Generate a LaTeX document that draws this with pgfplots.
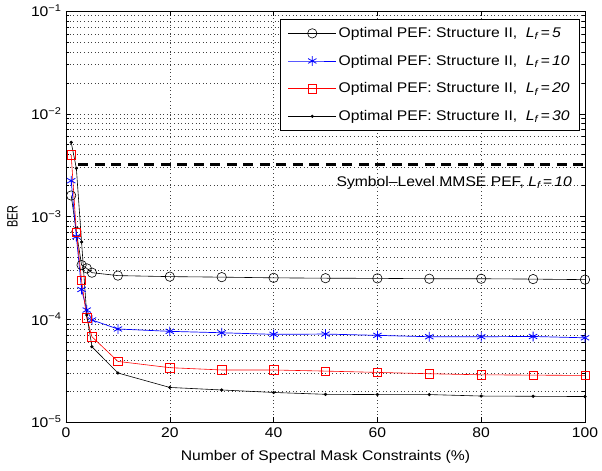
\documentclass[border=0pt]{standalone}
\usepackage{fontspec}
\setmainfont{Liberation Sans}[FakeStretch=1.12]
\newfontfamily\narrowfont{Liberation Sans}[FakeStretch=0.72]
\usepackage{pgfplots}
\pgfplotsset{compat=1.18}
\usetikzlibrary{calc}

\begin{document}
\begin{tikzpicture}[font=\fontsize{14}{16}\selectfont]
\begin{semilogyaxis}[
    scale only axis,
    width=519pt, height=411pt,
    xmin=0, xmax=100,
    ymin=1e-5, ymax=1e-1,
    xtick={0,20,40,60,80,100},
    ytick={1e-5,1e-4,1e-3,1e-2,1e-1},
    yticklabels={10\textsuperscript{−5},10\textsuperscript{−4},10\textsuperscript{−3},10\textsuperscript{−2},10\textsuperscript{−1}},
    /pgf/number format/assume math mode=true,
    xticklabel style={yshift=-2pt},
    yticklabel style={xshift=-1pt},
    tick align=inside,
    major tick length=5pt,
    minor tick length=3pt,
    xmajorgrids, ymajorgrids, yminorgrids,
    grid style={black!75, line width=0.5pt, dash pattern=on 0.6pt off 3pt},
    axis line style={line width=0.8pt},
    every tick/.style={black, line width=0.5pt},
    xlabel={Number of Spectral Mask Constraints (\%)},
    ylabel={\fontsize{15}{16}\narrowfont BER},
    xlabel style={at={(axis description cs:0.5,0)}, anchor=north, inner sep=0pt, yshift=-28pt},
    ylabel style={at={(axis description cs:-0.093,0.5)}, anchor=south, inner sep=0pt},
    clip=false,
    legend style={at={(axis description cs:0.99,0.98)}, anchor=north east,
                  draw=black, line width=0.6pt, fill=white,
                  inner xsep=8pt, inner ysep=6pt, row sep=12pt},
    legend cell align=left,
    legend image code/.code={\draw[mark repeat=2,mark phase=2] plot coordinates {(0pt,0pt) (24pt,0pt) (48pt,0pt)};},
]

% L_f = 5
\addplot[black, line width=0.6pt, mark=o, mark size=4.7pt, mark options={line width=0.6pt}]
coordinates {
(1,1.6e-3) (2,7.1e-4) (3,3.37e-4) (4,3.13e-4) (5,2.84e-4) (10,2.66e-4)
(20,2.60e-4) (30,2.57e-4) (40,2.53e-4) (50,2.51e-4) (60,2.50e-4)
(70,2.48e-4) (80,2.48e-4) (90,2.46e-4) (100,2.43e-4)
};
\addlegendentry{Optimal PEF: Structure II,\ \ \textit{L\textsubscript{f}\,=\,5}}

% L_f = 10
\addplot[blue, line width=0.7pt, mark=asterisk, mark size=4.8pt, mark options={line width=0.8pt}]
coordinates {
(1,2.23e-3) (2,6.37e-4) (3,1.95e-4) (4,1.23e-4) (5,9.84e-5) (10,8.04e-5)
(20,7.63e-5) (30,7.39e-5) (40,7.13e-5) (50,7.18e-5) (60,6.97e-5)
(70,6.76e-5) (80,6.76e-5) (90,6.80e-5) (100,6.60e-5)
};
\addlegendentry{Optimal PEF: Structure II,\ \ \textit{L\textsubscript{f}\,=\,10}}

% L_f = 20
\addplot[red, line width=0.6pt, mark=square, mark size=4.2pt, mark options={line width=0.6pt}]
coordinates {
(1,3.97e-3) (2,7.0e-4) (3,2.39e-4) (4,1.03e-4) (5,6.76e-5) (10,3.89e-5)
(20,3.38e-5) (30,3.21e-5) (40,3.21e-5) (50,3.13e-5) (60,3.04e-5)
(70,2.95e-5) (80,2.88e-5) (90,2.86e-5) (100,2.84e-5)
};
\addlegendentry{Optimal PEF: Structure II,\ \ \textit{L\textsubscript{f}\,=\,20}}

% L_f = 30
\addplot[black, line width=0.6pt, mark=*, mark size=1.3pt]
coordinates {
(1,5.27e-3) (2,2.94e-3) (3,5.65e-4) (4,1.1e-4) (5,5.4e-5) (10,3.0e-5)
(20,2.17e-5) (30,2.05e-5) (40,1.94e-5) (50,1.86e-5) (60,1.85e-5)
(70,1.85e-5) (80,1.79e-5) (90,1.78e-5) (100,1.77e-5)
};
\addlegendentry{Optimal PEF: Structure II,\ \ \textit{L\textsubscript{f}\,=\,30}}

% symbol-level MMSE PEF
\addplot[black, line width=3pt, dash pattern=on 10pt off 6.5pt, forget plot]
coordinates {(2.4,3.22e-3) (100,3.22e-3)};

\node[anchor=east, inner sep=0pt] at (axis cs:97.5,2.12e-3)
  {Symbol–Level MMSE PEF, \textit{L\textsubscript{f}\,=\,10}};

\end{semilogyaxis}
\pgfresetboundingbox
\useasboundingbox ($(current axis.south west)+(-66pt,-48pt)$) rectangle ($(current axis.north east)+(17pt,11pt)$);
\end{tikzpicture}
\end{document}
